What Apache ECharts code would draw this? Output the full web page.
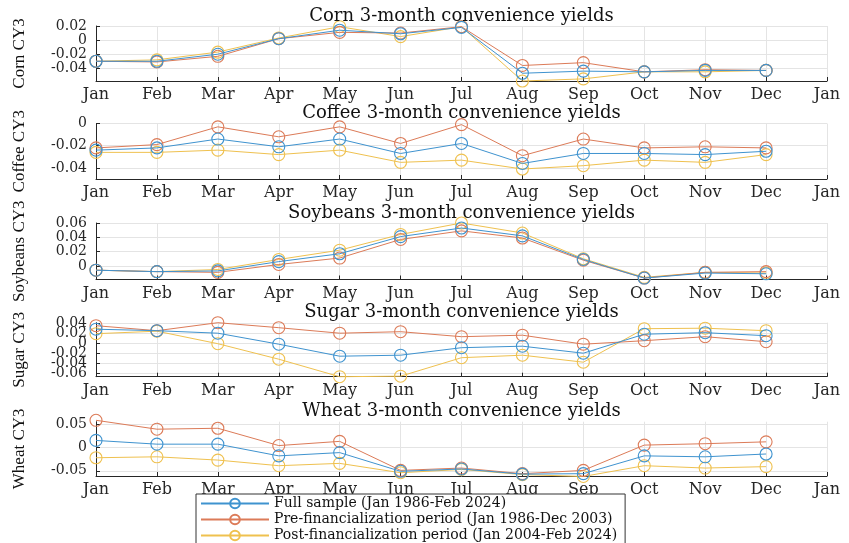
<!DOCTYPE html>
<html>
<head>
<meta charset="utf-8">
<script src="https://cdn.jsdelivr.net/npm/echarts@6/dist/echarts.min.js"></script>
<style>
  html, body { margin: 0; padding: 0; background: #fff; }
  #chart { width: 849px; height: 543px; }
</style>
</head>
<body>
<div id="chart"></div>
<script>
// Month tick labels (12 months plus the wrap-around January)
const months = ['Jan', 'Feb', 'Mar', 'Apr', 'May', 'Jun', 'Jul', 'Aug', 'Sep', 'Oct', 'Nov', 'Dec', 'Jan'];

const seriesNames = [
  'Full sample (Jan 1986-Feb 2024)',
  'Pre-financialization period (Jan 1986-Dec 2003)',
  'Post-financialization period (Jan 2004-Feb 2024)'
];

// Corn 3-month convenience yields by month
const cornFull = [-0.030, -0.030, -0.020, 0.002, 0.014, 0.009, 0.018, -0.047, -0.044, -0.045, -0.043, -0.043];
const cornPre  = [-0.030, -0.031, -0.023, 0.002, 0.011, 0.010, 0.019, -0.036, -0.032, -0.045, -0.042, -0.043];
const cornPost = [-0.030, -0.028, -0.017, 0.003, 0.019, 0.005, 0.019, -0.058, -0.055, -0.045, -0.045, -0.043];

// Coffee
const coffeeFull = [-0.024, -0.022, -0.014, -0.021, -0.014, -0.027, -0.018, -0.036, -0.027, -0.027, -0.028, -0.025];
const coffeePre  = [-0.022, -0.019, -0.003, -0.012, -0.003, -0.018, -0.001, -0.029, -0.014, -0.022, -0.021, -0.022];
const coffeePost = [-0.026, -0.026, -0.024, -0.028, -0.024, -0.035, -0.033, -0.041, -0.038, -0.033, -0.035, -0.028];

// Soybeans
const soyFull = [-0.006, -0.008, -0.007, 0.006, 0.017, 0.041, 0.053, 0.042, 0.009, -0.017, -0.010, -0.011];
const soyPre  = [-0.006, -0.008, -0.009, 0.002, 0.011, 0.037, 0.049, 0.039, 0.008, -0.017, -0.009, -0.008];
const soyPost = [-0.006, -0.008, -0.005, 0.009, 0.022, 0.044, 0.060, 0.046, 0.010, -0.016, -0.009, -0.010];

// Sugar
const sugarFull = [0.028, 0.025, 0.020, -0.002, -0.026, -0.024, -0.009, -0.006, -0.020, 0.018, 0.021, 0.015];
const sugarPre  = [0.035, 0.025, 0.041, 0.031, 0.020, 0.023, 0.013, 0.016, -0.002, 0.005, 0.013, 0.003];
const sugarPost = [0.019, 0.024, -0.001, -0.032, -0.067, -0.066, -0.029, -0.024, -0.038, 0.029, 0.030, 0.025];

// Wheat
const wheatFull = [0.015, 0.007, 0.007, -0.018, -0.011, -0.051, -0.046, -0.057, -0.056, -0.018, -0.020, -0.014];
const wheatPre  = [0.058, 0.039, 0.041, 0.004, 0.013, -0.049, -0.044, -0.056, -0.049, 0.005, 0.008, 0.012];
const wheatPost = [-0.022, -0.020, -0.027, -0.039, -0.034, -0.054, -0.047, -0.058, -0.062, -0.039, -0.044, -0.041];

const panels = [
  { title: 'Corn 3-month convenience yields', ylabel: 'Corn CY3', data: [cornFull, cornPre, cornPost],
    top: 26, height: 55, min: -0.058, max: 0.02, split: 4, showMax: true },
  { title: 'Coffee 3-month convenience yields', ylabel: 'Coffee CY3', data: [coffeeFull, coffeePre, coffeePost],
    top: 123.5, height: 55.5, min: -0.05, max: 0, split: 3, showMax: true },
  { title: 'Soybeans 3-month convenience yields', ylabel: 'Soybeans CY3', data: [soyFull, soyPre, soyPost],
    top: 223, height: 56.5, min: -0.019, max: 0.06, split: 4, showMax: true },
  { title: 'Sugar 3-month convenience yields', ylabel: 'Sugar CY3', data: [sugarFull, sugarPre, sugarPost],
    top: 322.7, height: 54, min: -0.067, max: 0.041, split: 5, showMax: false },
  { title: 'Wheat 3-month convenience yields', ylabel: 'Wheat CY3', data: [wheatFull, wheatPre, wheatPost],
    top: 421.7, height: 54.3, min: -0.061, max: 0.055, split: 2, showMax: false }
];

const colors = ['#3f93cf', '#dc7b58', '#efc14f'];
const serif = 'DejaVu Serif';
const plotLeft = 96, plotWidth = 731;

const grids = [], xAxes = [], yAxes = [], titles = [], series = [];

panels.forEach((p, i) => {
  grids.push({ left: plotLeft, width: plotWidth, top: p.top, height: p.height, containLabel: false });
  titles.push({
    text: p.title,
    left: plotLeft + plotWidth / 2,
    textAlign: 'center',
    top: p.top - 19,
    padding: 0,
    textStyle: { fontFamily: serif, fontSize: 18, fontWeight: 'normal', color: '#111' }
  });
  xAxes.push({
    type: 'category', gridIndex: i, data: months, boundaryGap: false,
    axisLine: { onZero: false, lineStyle: { color: '#262626', width: 1 } },
    axisTick: { inside: true, length: 4, lineStyle: { color: '#262626' } },
    axisLabel: { fontFamily: serif, fontSize: 16, color: '#262626', margin: 6, interval: 0 },
    splitLine: { show: true, lineStyle: { color: '#e4e4e4', width: 1 } }
  });
  yAxes.push({
    type: 'value', gridIndex: i, min: p.min, max: p.max, splitNumber: p.split,
    name: p.ylabel, nameLocation: 'middle', nameGap: 68,
    nameTextStyle: { fontFamily: 'Liberation Serif', fontSize: 17, color: '#111' },
    axisLine: { show: true, onZero: false, lineStyle: { color: '#262626', width: 1 } },
    axisTick: { show: true, inside: true, length: 4, lineStyle: { color: '#262626' } },
    axisLabel: { fontFamily: serif, fontSize: 14, color: '#262626', margin: 9, hideOverlap: false,
                 showMinLabel: false, showMaxLabel: p.showMax },
    splitLine: { show: true, showMinLine: false, showMaxLine: p.showMax,
                 lineStyle: { color: '#e4e4e4', width: 1 } }
  });
  p.data.forEach((vals, k) => {
    series.push({
      name: seriesNames[k], type: 'line', xAxisIndex: i, yAxisIndex: i,
      data: vals, clip: false,
      symbol: 'circle', symbolSize: 12,
      lineStyle: { color: colors[k], width: 1 },
      itemStyle: { color: 'rgba(255,255,255,0)', borderColor: colors[k], borderWidth: 1.1 },
      emphasis: { disabled: true },
      z: 3 - k
    });
  });
});

const chart = echarts.init(document.getElementById('chart'), null, { renderer: 'canvas' });
chart.setOption({
  animation: false,
  backgroundColor: '#fff',
  color: colors,
  title: titles,
  grid: grids,
  xAxis: xAxes,
  yAxis: yAxes,
  legend: {
    data: seriesNames,
    orient: 'vertical',
    left: 196, top: 494, height: 90,
    itemWidth: 68, itemHeight: 12, itemGap: 1,
    padding: [2, 8, 12, 4],
    borderColor: '#333', borderWidth: 1, backgroundColor: '#fff',
    textStyle: { fontFamily: serif, fontSize: 14, color: '#111', lineHeight: 15 }
  },
  series: series
});
</script>
</body>
</html>
